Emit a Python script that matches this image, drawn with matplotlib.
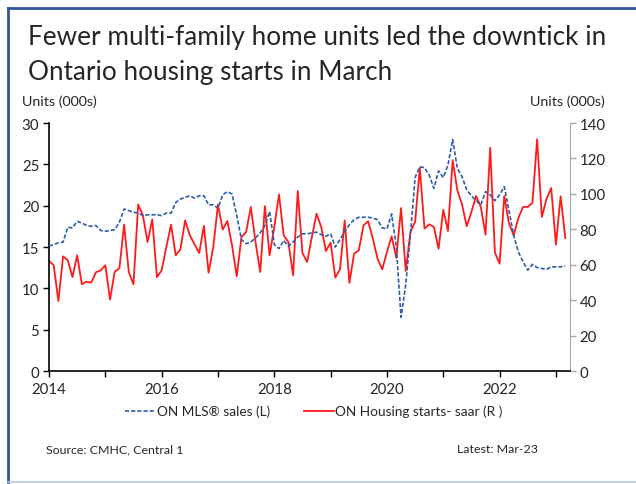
import numpy as np
import pandas as pd
from matplotlib import pyplot as plt
from matplotlib.lines import Line2D
from matplotlib.ticker import FixedLocator, NullFormatter

plt.rcParams['font.family'] = ['Lato', 'DejaVu Sans']

months = pd.date_range('2014-01-01', '2023-03-01', freq='MS')

# ON MLS sales, thousands of units (left axis)
mls_sales = [
    15.1, 15.3, 15.5, 15.6, 17.4, 17.3, 18.1, 17.9, 17.6, 17.5, 17.6, 17.0,
    16.9, 17.0, 17.1, 18.0, 19.6, 19.4, 19.2, 19.1, 18.8, 18.9, 18.9, 18.9,
    18.8, 19.1, 19.1, 20.4, 20.8, 21.0, 21.2, 20.9, 21.2, 21.2, 20.1, 20.1,
    19.7, 21.3, 21.7, 21.4, 18.8, 15.9, 15.4, 15.6, 16.1, 16.7, 17.6, 19.3,
    15.3, 14.8, 15.8, 15.1, 15.6, 16.2, 16.6, 16.6, 16.7, 16.8, 16.5, 16.3,
    16.6, 15.0, 15.9, 16.9, 17.7, 18.3, 18.6, 18.6, 18.6, 18.5, 18.3, 17.3,
    17.2, 19.0, 15.0, 6.5, 10.4, 16.5, 23.4, 24.7, 24.6, 23.7, 22.1, 24.2,
    23.4, 24.9, 28.0, 24.5, 23.5, 21.9, 21.2, 20.6, 20.1, 21.7, 21.3, 20.6,
    21.3, 22.3, 19.4, 16.4, 14.4, 13.2, 12.2, 12.9, 12.5, 12.4, 12.3, 12.6,
    12.6, 12.6, 12.7,
]

# ON housing starts, SAAR, thousands of units (right axis)
housing_starts = [
    62.1, 59.7, 39.5, 64.7, 62.5, 53.0, 65.3, 49.0, 50.4, 49.9, 55.7, 56.8,
    59.7, 40.3, 56.0, 58.0, 82.6, 55.9, 48.9, 94.0, 87.9, 72.8, 85.6, 53.0,
    56.8, 70.0, 82.6, 65.3, 68.7, 85.0, 76.6, 71.5, 66.6, 81.9, 55.5, 70.0,
    93.9, 79.8, 84.7, 70.9, 53.4, 75.6, 78.5, 92.6, 72.8, 55.9, 93.1, 65.3,
    81.3, 99.7, 76.6, 72.8, 54.0, 101.6, 66.6, 61.5, 75.6, 88.8, 81.3, 67.7,
    72.5, 52.7, 57.4, 85.0, 49.7, 66.2, 68.1, 82.2, 84.5, 74.7, 63.4, 57.4,
    67.2, 76.0, 63.8, 92.0, 56.5, 78.5, 84.1, 114.6, 80.4, 82.8, 81.3, 69.0,
    91.0, 79.0, 119.0, 102.0, 94.0, 81.7, 89.8, 98.8, 92.6, 77.0, 126.0, 66.8,
    60.6, 98.8, 83.2, 76.6, 86.4, 92.6, 92.6, 95.0, 130.8, 86.9, 97.3, 103.3,
    71.3, 98.6, 75.1,
]

year_labels = ['2014', '2016', '2018', '2020', '2022']

blue = '#2E5CA8'
red = '#FF1A1A'
txt = '#262626'

fig = plt.figure(figsize=(6.36, 4.85), dpi=100)

# frame round the chart
fig.add_artist(Line2D([8 / 636, 8 / 636], [2 / 485, 476 / 485], color='#2F5597', lw=2.0))
fig.add_artist(Line2D([8 / 636, 1.0], [476 / 485, 476 / 485], color='#2F5597', lw=2.0))
fig.add_artist(Line2D([8 / 636, 1.0], [2 / 485, 2 / 485], color='#B4C7E7', lw=1.2))

fig.text(28 / 636, 1 - 45 / 485, 'Fewer multi-family home units led the downtick in',
         fontsize=18.8, color=txt, va='baseline')
fig.text(28 / 636, 1 - 80 / 485, 'Ontario housing starts in March',
         fontsize=18.8, color=txt, va='baseline')

ax = fig.add_axes([49 / 636, 1 - 372 / 485, (570 - 49) / 636, (372 - 124) / 485])
ax2 = ax.twinx()

x = np.arange(len(months))
ax.plot(x, mls_sales, color=blue, lw=1.2, ls=(0, (2.5, 1.2)), zorder=3)
ax2.plot(x, housing_starts, color=red, lw=1.3, zorder=2)
ax.set_zorder(ax2.get_zorder() + 1)
ax.patch.set_visible(False)

ax.set_xlim(0, 111)
ax.set_ylim(0, 30)
ax2.set_ylim(0, 140)
ax.set_yticks(np.arange(0, 31, 5))
ax2.set_yticks(np.arange(0, 141, 20))

year_ticks = np.arange(0, 111, 12)
ax.xaxis.set_major_locator(FixedLocator(year_ticks[::2]))
ax.xaxis.set_minor_locator(FixedLocator(year_ticks[1::2]))
ax.set_xticklabels(year_labels)
ax.xaxis.set_minor_formatter(NullFormatter())

for a in (ax, ax2):
    a.spines['top'].set_visible(False)
ax.spines['right'].set_visible(False)
ax2.spines['left'].set_visible(False)
ax2.spines['bottom'].set_visible(False)
ax.spines['left'].set_color('black')
ax.spines['bottom'].set_color('black')
ax.spines['left'].set_linewidth(1.2)
ax.spines['bottom'].set_linewidth(1.2)
ax2.spines['right'].set_color('#A6A6A6')

ax.tick_params(axis='y', length=4, width=1, labelsize=10.8, labelcolor=txt, pad=3)
ax.tick_params(axis='x', which='both', length=4, width=1, labelsize=10.8,
               labelcolor=txt, pad=4)
ax2.tick_params(axis='y', length=4, width=1, color='#A6A6A6', labelsize=10.8,
                labelcolor=txt, pad=3)

fig.text(22 / 636, 1 - 102 / 485, 'Units (000s)', fontsize=10.3, color=txt, va='center')
fig.text(605 / 636, 1 - 102 / 485, 'Units (000s)', fontsize=10.3, color=txt,
         va='center', ha='right')

handles = [Line2D([], [], color=blue, lw=1.2, ls=(0, (2.5, 1.2))),
           Line2D([], [], color=red, lw=1.3)]
fig.legend(handles, ['ON MLS® sales (L)', 'ON Housing starts- saar (R )'],
           loc='center', bbox_to_anchor=(314 / 636, 1 - 412 / 485), ncol=2,
           frameon=False, fontsize=9.8, handlelength=2.2, handletextpad=0.1,
           columnspacing=2.5, labelcolor=txt)

fig.text(46 / 636, 1 - 450 / 485, 'Source: CMHC, Central 1', fontsize=8.9, color=txt,
         va='center')
fig.text(457 / 636, 1 - 450 / 485, 'Latest: Mar-23', fontsize=8.9, color=txt,
         va='center')

plt.savefig('out.png', dpi=100)
